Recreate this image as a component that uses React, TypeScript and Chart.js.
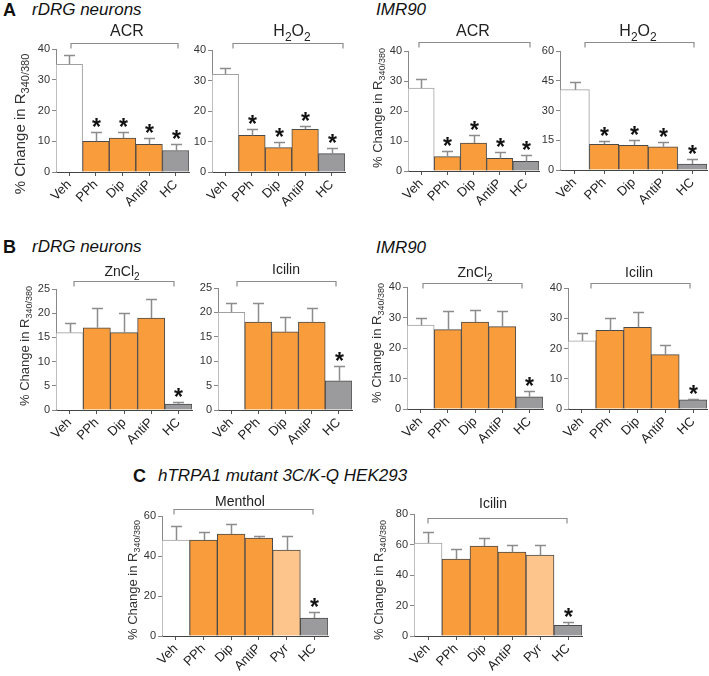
import React, { useEffect, useRef } from "react";
import { Chart, registerables } from "chart.js";
Chart.register(...registerables);

// ---------- categories ----------
const groups5 = ["Veh", "PPh", "Dip", "AntiP", "HC"];
const groups6 = ["Veh", "PPh", "Dip", "AntiP", "Pyr", "HC"];

// ---------- values (mean, SEM) ----------
// A: rDRG neurons
const aRdrgAcrMean = [35, 10, 11, 9, 7];
const aRdrgAcrSem = [3, 3, 2, 2, 2];
const aRdrgH2o2Mean = [32, 12, 8, 14, 6];
const aRdrgH2o2Sem = [2, 2, 2, 1, 2];
// A: IMR90
const aImrAcrMean = [27.6, 4.8, 9.3, 4.2, 3.2];
const aImrAcrSem = [3.2, 1.9, 2.7, 2, 2];
const aImrH2o2Mean = [40.5, 13, 12.5, 11.7, 3];
const aImrH2o2Sem = [4, 1.5, 2.5, 2.3, 2.5];
// B: rDRG neurons
const bRdrgZnMean = [16, 17, 16, 19, 1.2];
const bRdrgZnSem = [2, 4, 4, 4, 0.4];
const bRdrgIciMean = [20, 18, 16, 18, 6];
const bRdrgIciSem = [2, 4, 3, 3, 3];
// B: IMR90
const bImrZnMean = [27.5, 26, 28.5, 27, 4];
const bImrZnSem = [2.5, 6, 4, 5, 2];
const bImrIciMean = [22.5, 26, 27, 18, 3];
const bImrIciSem = [2.5, 4, 5, 3, 0.4];
// C: hTRPA1 mutant
const cMentholMean = [48, 48, 51, 49, 43, 9];
const cMentholSem = [7, 4, 5, 1, 7, 3];
const cIcilinMean = [61, 50.5, 59, 55, 53, 7];
const cIcilinSem = [7, 6.5, 5, 5, 7, 2.5];

// significance markers (category indices)
const starsAll = [1, 2, 3, 4];
const starsHC5 = [4];
const starsHC6 = [5];

// y-axis ticks [max, step]
const yTicks40 = [40, 10];
const yTicks60by15 = [60, 15];
const yTicks25 = [25, 5];
const yTicks60by20 = [60, 20];
const yTicks80 = [80, 20];

// ---------- styles ----------
const WHITE = "#ffffff";
const ORANGE = "#F89C3C";
const LIGHT = "#FDC48C";
const GRAY = "#9B9B9E";
const colors5 = [WHITE, ORANGE, ORANGE, ORANGE, GRAY];
const colors6 = [WHITE, ORANGE, ORANGE, ORANGE, LIGHT, GRAY];
const FONT = "Arial, 'Liberation Sans', Helvetica, sans-serif";

type Seg = [string, boolean];
const H2O2: Seg[] = [["H", false], ["2", true], ["O", false], ["2", true]];
const ZNCL2: Seg[] = [["ZnCl", false], ["2", true]];
const YTITLE: Seg[] = [["% Change in R", false], ["340/380", true]];

interface PanelCfg {
  box: [number, number, number, number]; // canvas left, top, w, h (page px)
  plot: [number, number, number, number]; // x0, x1, yTop, yBottom (page px)
  labels: string[];
  mean: number[];
  sem: number[];
  colors: string[];
  ticks: number[];
  stars: number[];
  title: Seg[];
  titlePos: [number, number];
  titleSize: number;
  bracket: [number, number, number];
  yTitle?: [number, number, number]; // x center, y center, font size
}

const panels: PanelCfg[] = [
  { box: [0, 18, 196, 192], plot: [56, 189, 49, 172], labels: groups5, mean: aRdrgAcrMean, sem: aRdrgAcrSem, colors: colors5, ticks: yTicks40, stars: starsAll, title: [["ACR", false]], titlePos: [127, 32], titleSize: 16, bracket: [71, 178, 43], yTitle: [21, 124, 15] },
  { box: [190, 18, 162, 192], plot: [212, 345, 50, 172], labels: groups5, mean: aRdrgH2o2Mean, sem: aRdrgH2o2Sem, colors: colors5, ticks: yTicks40, stars: starsAll, title: H2O2, titlePos: [292, 32], titleSize: 16, bracket: [233, 343, 43] },
  { box: [352, 18, 192, 192], plot: [408, 539, 51, 171], labels: groups5, mean: aImrAcrMean, sem: aImrAcrSem, colors: colors5, ticks: yTicks40, stars: starsAll, title: [["ACR", false]], titlePos: [473, 32], titleSize: 16, bracket: [419, 530, 42], yTitle: [378, 108, 13] },
  { box: [534, 18, 175, 192], plot: [560, 707, 51, 170], labels: groups5, mean: aImrH2o2Mean, sem: aImrH2o2Sem, colors: colors5, ticks: yTicks60by15, stars: starsAll, title: H2O2, titlePos: [638, 32], titleSize: 16, bracket: [585, 694, 42] },

  { box: [0, 255, 197, 190], plot: [56, 192, 289, 410], labels: groups5, mean: bRdrgZnMean, sem: bRdrgZnSem, colors: colors5, ticks: yTicks25, stars: starsHC5, title: ZNCL2, titlePos: [122, 272], titleSize: 14, bracket: [74, 174, 281], yTitle: [25, 346, 13] },
  { box: [194, 255, 162, 190], plot: [218, 352, 288, 410], labels: groups5, mean: bRdrgIciMean, sem: bRdrgIciSem, colors: colors5, ticks: yTicks25, stars: starsHC5, title: [["Icilin", false]], titlePos: [286, 270], titleSize: 14, bracket: [237, 336, 281] },
  { box: [356, 255, 190, 190], plot: [407, 543, 287, 409], labels: groups5, mean: bImrZnMean, sem: bImrZnSem, colors: colors5, ticks: yTicks40, stars: starsHC5, title: ZNCL2, titlePos: [475, 273], titleSize: 14, bracket: [423, 522, 283], yTitle: [377, 343, 13] },
  { box: [545, 255, 164, 190], plot: [568, 707, 288, 409], labels: groups5, mean: bImrIciMean, sem: bImrIciSem, colors: colors5, ticks: yTicks40, stars: starsHC5, title: [["Icilin", false]], titlePos: [639, 273], titleSize: 14, bracket: [591, 690, 283] },

  { box: [110, 490, 230, 186], plot: [162, 328, 516, 636], labels: groups6, mean: cMentholMean, sem: cMentholSem, colors: colors6, ticks: yTicks60by20, stars: starsHC6, title: [["Menthol", false]], titlePos: [240, 502], titleSize: 14, bracket: [174, 313, 509], yTitle: [133, 580, 13] },
  { box: [350, 490, 250, 186], plot: [414, 582, 514, 636], labels: groups6, mean: cIcilinMean, sem: cIcilinSem, colors: colors6, ticks: yTicks80, stars: starsHC6, title: [["Icilin", false]], titlePos: [493, 504], titleSize: 14, bracket: [428, 567, 518], yTitle: [379, 580, 13] },
];

function drawSegs(ctx: CanvasRenderingContext2D, segs: Seg[], cx: number, cy: number, size: number) {
  const sub = Math.round(size * 0.72);
  let total = 0;
  const widths = segs.map(([t, s]) => {
    ctx.font = `${s ? sub : size}px ${FONT}`;
    const w = ctx.measureText(t).width;
    total += w;
    return w;
  });
  let x = cx - total / 2;
  ctx.textAlign = "left";
  ctx.textBaseline = "middle";
  segs.forEach(([t, s], i) => {
    ctx.font = `${s ? sub : size}px ${FONT}`;
    ctx.fillText(t, x, s ? cy + size * 0.35 : cy);
    x += widths[i];
  });
}

function makePlugin(p: PanelCfg) {
  const ox = p.box[0];
  const oy = p.box[1];
  return {
    id: "annot",
    afterDatasetsDraw(chart: any) {
      const ctx: CanvasRenderingContext2D = chart.ctx;
      const xs = chart.scales.x;
      const ys = chart.scales.y;
      ctx.save();
      p.mean.forEach((m, i) => {
        const cx = Math.round(xs.getPixelForValue(i)) + 0.5;
        const yb = ys.getPixelForValue(m);
        const yt = Math.round(ys.getPixelForValue(m + p.sem[i])) + 0.5;
        ctx.strokeStyle = "#8c8c8c";
        ctx.lineWidth = 1.5;
        ctx.beginPath();
        ctx.moveTo(cx, yb);
        ctx.lineTo(cx, yt);
        ctx.moveTo(cx - 5.5, yt);
        ctx.lineTo(cx + 5.5, yt);
        ctx.stroke();
        if (p.stars.includes(i)) {
          ctx.fillStyle = "#111";
          ctx.font = `bold 23px ${FONT}`;
          ctx.textAlign = "center";
          ctx.textBaseline = "alphabetic";
          ctx.fillText("*", cx, yt + 2);
        }
      });
      ctx.restore();
    },
    afterDraw(chart: any) {
      const ctx: CanvasRenderingContext2D = chart.ctx;
      ctx.save();
      // bracket
      const [bx0, bx1, by] = p.bracket;
      const y = by - oy + 0.5;
      ctx.strokeStyle = "#8c8c8c";
      ctx.lineWidth = 1.2;
      ctx.beginPath();
      ctx.moveTo(bx0 - ox, y + 5);
      ctx.lineTo(bx0 - ox, y);
      ctx.lineTo(bx1 - ox, y);
      ctx.lineTo(bx1 - ox, y + 5);
      ctx.stroke();
      // title
      ctx.fillStyle = "#222";
      drawSegs(ctx, p.title, p.titlePos[0] - ox, p.titlePos[1] - oy, p.titleSize);
      // y title
      if (p.yTitle) {
        const [tx, ty, ts] = p.yTitle;
        ctx.translate(tx - ox, ty - oy);
        ctx.rotate(-Math.PI / 2);
        ctx.fillStyle = "#333";
        drawSegs(ctx, YTITLE, 0, 0, ts);
      }
      ctx.restore();
    },
  };
}

function Panel({ p }: { p: PanelCfg }) {
  const ref = useRef<HTMLCanvasElement | null>(null);
  useEffect(() => {
    if (!ref.current) return;
    const [bl, bt, bw, bh] = p.box;
    const [x0, x1, yTop, yBot] = p.plot;
    const chart = new Chart(ref.current, {
      type: "bar",
      data: {
        labels: p.labels,
        datasets: [
          {
            data: p.mean,
            backgroundColor: p.colors,
            borderColor: p.colors.map((c) => (c === WHITE ? "#a0a0a0" : "#4a4a4a")),
            borderWidth: 1,
            barPercentage: 1,
            categoryPercentage: 1,
          },
        ],
      },
      options: {
        animation: false,
        responsive: false,
        maintainAspectRatio: false,
        devicePixelRatio: 1,
        events: [],
        layout: { padding: { left: 0, top: yTop - bt, right: bl + bw - x1, bottom: 0 } },
        plugins: { legend: { display: false }, tooltip: { enabled: false }, title: { display: false } },
        scales: {
          x: {
            type: "category",
            offset: true,
            grid: { display: true, offset: false, drawOnChartArea: false, drawTicks: true, tickLength: 4, color: "#555" },
            border: { display: true, color: "#444", width: 1 },
            ticks: { maxRotation: 45, minRotation: 45, autoSkip: false, padding: 1, color: "#222", font: { family: FONT, size: 13 } },
            afterFit: (s: any) => {
              s.height = bt + bh - yBot;
            },
          },
          y: {
            min: 0,
            max: p.ticks[0],
            ticks: { stepSize: p.ticks[1], padding: 2, color: "#333", font: { family: FONT, size: 11 } },
            grid: { display: true, drawOnChartArea: false, drawTicks: true, tickLength: 4, color: "#888" },
            border: { display: true, color: "#888", width: 1 },
            afterFit: (s: any) => {
              s.width = x0 - bl;
            },
          },
        },
      } as any,
      plugins: [makePlugin(p)],
    });
    return () => chart.destroy();
  }, [p]);
  return (
    <canvas
      ref={ref}
      width={p.box[2]}
      height={p.box[3]}
      style={{ position: "absolute", left: p.box[0], top: p.box[1], width: p.box[2], height: p.box[3] }}
    />
  );
}

function Heading({ left, cy, text, bold, size }: { left: number; cy: number; text: string; bold?: boolean; size: number }) {
  return (
    <div
      style={{
        position: "absolute",
        left,
        top: cy - size / 2,
        fontFamily: FONT,
        fontSize: size,
        lineHeight: `${size}px`,
        fontWeight: bold ? "bold" : "normal",
        fontStyle: bold ? "normal" : "italic",
        whiteSpace: "nowrap",
        color: "#111",
      }}
    >
      {text}
    </div>
  );
}

export default function App() {
  return (
    <div style={{ position: "absolute", left: 0, top: 0, width: 709, height: 676, background: "#fff", overflow: "hidden" }}>
      <Heading left={3} cy={10} text="A" bold size={18} />
      <Heading left={32} cy={9} text="rDRG neurons" size={17} />
      <Heading left={376} cy={9} text="IMR90" size={17} />
      <Heading left={3} cy={247} text="B" bold size={18} />
      <Heading left={32} cy={246} text="rDRG neurons" size={17} />
      <Heading left={376} cy={247} text="IMR90" size={17} />
      <Heading left={133} cy={476} text="C" bold size={18} />
      <Heading left={158} cy={475} text="hTRPA1 mutant 3C/K-Q HEK293" size={17} />
      {panels.map((p, i) => (
        <Panel key={i} p={p} />
      ))}
    </div>
  );
}
